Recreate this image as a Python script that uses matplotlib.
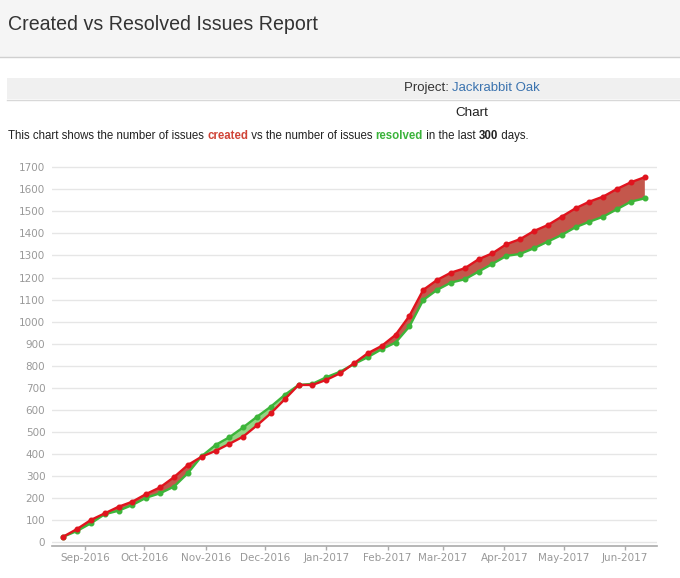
import numpy as np
import pandas as pd
import matplotlib
matplotlib.use("Agg")
import matplotlib.pyplot as plt
import matplotlib.dates as mdates
from matplotlib.patches import Rectangle

# weekly data points, 21 Aug 2016 .. 11 Jun 2017
dates = pd.date_range("2016-08-21", periods=43, freq="7D")
created = [25, 60, 101, 131, 161, 184, 219, 249, 295, 350, 388, 414, 446, 479,
           530, 585, 648, 713, 713, 736, 766, 811, 857, 890, 940, 1026, 1144,
           1189, 1222, 1242, 1283, 1310, 1351, 1374, 1411, 1438, 1476, 1514,
           1544, 1567, 1602, 1632, 1655]
resolved = [25, 51, 86, 127, 143, 169, 202, 222, 252, 313, 390, 441, 476, 521,
            569, 615, 668, 713, 718, 748, 773, 808, 839, 875, 905, 978, 1098,
            1144, 1177, 1192, 1227, 1262, 1298, 1307, 1333, 1363, 1393, 1428,
            1453, 1476, 1510, 1544, 1559]
y_ticks = list(range(0, 1800, 100))

W, H = 680, 578
fig = plt.figure(figsize=(W / 100, H / 100), dpi=100)
fig.patch.set_facecolor("white")


def fx(px):
    return px / W


def fy(py):
    return 1 - py / H


# page header
fig.add_artist(Rectangle((0, fy(57)), 1, 57 / H, transform=fig.transFigure,
                         facecolor="#f5f5f5", edgecolor="none"))
fig.add_artist(plt.Line2D([0, 1], [fy(57), fy(57)], transform=fig.transFigure,
                          color="#d0d0d0", lw=1))
fig.text(fx(8), fy(25), "Created vs Resolved Issues Report", fontsize=14.1,
         family="Liberation Sans", color="#333333", va="center", ha="left")

# project band
fig.add_artist(Rectangle((fx(7), fy(98.5)), 1 - fx(7), 21 / H, transform=fig.transFigure,
                         facecolor="#f0f0f0", edgecolor="none"))
fig.add_artist(plt.Line2D([fx(7), 1], [fy(99.5), fy(99.5)], transform=fig.transFigure,
                          color="#d8d8d8", lw=1))
renderer = fig.canvas.get_renderer()
t1 = fig.text(fx(404), fy(88), "Project: ", fontsize=9.5, family="Liberation Sans",
              color="#333333", va="center", ha="left")
w1 = t1.get_window_extent(renderer).width
fig.text(fx(404 + w1), fy(88), "Jackrabbit Oak", fontsize=9.5, family="Liberation Sans",
         color="#3b73af", va="center", ha="left")

fig.text(fx(472), fy(113), "Chart", fontsize=9.7, family="Liberation Sans",
         color="#222222", va="center", ha="center")

# description line with coloured words
pieces = [("This chart shows the number of issues ", "#222222", "normal"),
          ("created", "#d04437", "bold"),
          (" vs the number of issues ", "#222222", "normal"),
          ("resolved", "#3bb33b", "bold"),
          (" in the last ", "#222222", "normal"),
          ("300", "#222222", "bold"),
          (" days.", "#222222", "normal")]
x0 = 8
for txt, col, wt in pieces:
    t = fig.text(fx(x0), fy(136), txt, fontsize=8.3, family="Liberation Sans",
                 color=col, fontweight=wt, va="center", ha="left")
    x0 += t.get_window_extent(renderer).width

# chart
ax = fig.add_axes([fx(52.3), fy(546), fx(656.7) - fx(52.3), (546 - 162.8) / H])
ax.set_facecolor("white")
for y in y_ticks:
    ax.axhline(y, color="#e6e6e6", lw=1, zorder=0)

d = mdates.date2num(dates)
c = np.array(created)
r = np.array(resolved)
ax.fill_between(d, c, r, where=c >= r, interpolate=True, color="#c4574c", lw=0, zorder=1)
ax.fill_between(d, c, r, where=c < r, interpolate=True, color="#93d483", lw=0, zorder=1)
ax.plot(d, r, color="#3db53a", lw=1.7, marker="o", ms=3.3, zorder=2)
ax.plot(d, c, color="#e0141e", lw=1.7, marker="o", ms=3.3, zorder=3)

ax.set_xlim(d[0] - 5.5, d[-1] + 6)
ax.set_ylim(-17, 1720)
ax.set_yticks(y_ticks)
ax.xaxis.set_major_locator(mdates.MonthLocator())
ax.xaxis.set_major_formatter(mdates.DateFormatter("%b-%Y"))

for s in ["left", "right", "top"]:
    ax.spines[s].set_visible(False)
ax.spines["bottom"].set_color("#aaaaaa")
ax.spines["bottom"].set_linewidth(1.2)
ax.tick_params(axis="y", length=0, pad=5, labelsize=7.5, labelcolor="#999999")
ax.tick_params(axis="x", length=3, width=1, color="#aaaaaa", pad=2,
               labelsize=7.5, labelcolor="#999999")
for lab in ax.get_xticklabels() + ax.get_yticklabels():
    lab.set_family("DejaVu Sans")

fig.savefig("out.png", dpi=100)
